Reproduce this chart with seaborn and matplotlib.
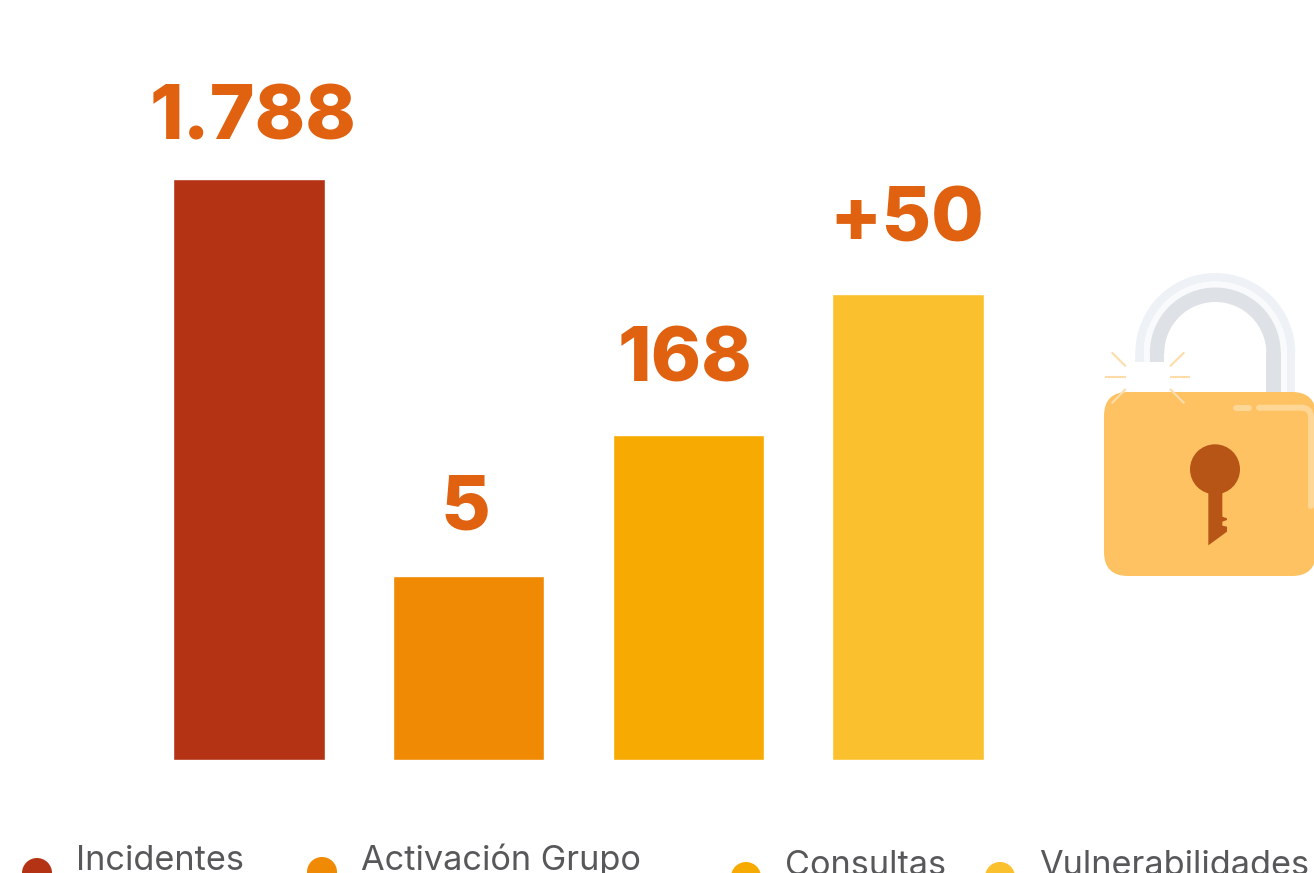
import numpy as np
import pandas as pd
import matplotlib
matplotlib.use('Agg')
import matplotlib.pyplot as plt
import seaborn as sns
from matplotlib.patches import Circle, FancyBboxPatch, Polygon, Rectangle, Wedge
from matplotlib.path import Path
from matplotlib.patches import PathPatch

# datos
categorias = ['Incidentes', 'Activación Grupo', 'Consultas', 'Vulnerabilidades']
alturas = [581, 184, 325, 466]
etiquetas = ['1.788', '5', '168', '+50']
colores = ['#b53315', '#f08a04', '#f7aa02', '#fbc02d']

sns.set_theme(style='white')
plt.rcParams['font.family'] = ['Inter', 'DejaVu Sans']

W, H = 1314, 873
fig = plt.figure(figsize=(W / 100, H / 100), dpi=100, facecolor='white')

# barras
paso = 219.8
izq = 248.8 - paso / 2
ax = fig.add_axes([izq / W, (H - 760) / H, 4 * paso / W, 581 / H])
df = pd.DataFrame({'cat': categorias, 'alto': alturas})
sns.barplot(data=df, x='cat', y='alto', hue='cat', palette=colores, width=0.69,
            saturation=1, legend=False, ax=ax)
ax.set_ylim(0, 581)
ax.set_xlim(-0.5, 3.5)
ax.axis('off')

# valores sobre las barras
offsets = [(4, 39), (-3, 47), (-3, 53), (-1, 52)]
for barra, texto, off in zip(ax.patches, etiquetas, offsets):
    ax.annotate(texto, (barra.get_x() + barra.get_width() / 2, barra.get_height()),
                xytext=(off[0] * 0.72, off[1] * 0.72), textcoords='offset points',
                ha='center', va='baseline', fontsize=55, fontweight='heavy',
                color='#e06211', annotation_clip=False)

# capa en pixeles para leyenda y candado
capa = fig.add_axes([0, 0, 1, 1], facecolor='none')
capa.set_xlim(0, W)
capa.set_ylim(H, 0)
capa.axis('off')

# leyenda
puntos = [(37, 873), (322, 872), (746, 877), (1000, 877)]
textos = [(76, 870), (361, 870), (785, 875), (1039, 875)]
for nombre, color, p, t in zip(categorias, colores, puntos, textos):
    capa.add_patch(Circle(p, 15, color=color, lw=0))
    capa.text(t[0], t[1], nombre, fontsize=24.7, color='#58585a', va='baseline', ha='left')

# candado: arco
cx, cy = 1215.3, 353
for r, ancho, color in [(80, 8.5, '#eef1f5'), (71.5, 6, '#f8fafc'), (65.5, 14.5, '#dee1e6')]:
    capa.add_patch(Wedge((cx, cy), r, 180, 360, width=ancho, color=color, lw=0))
    capa.add_patch(Rectangle((cx - r, cy), ancho, 362 - cy, color=color, lw=0))
    capa.add_patch(Rectangle((cx + r - ancho, cy), ancho, 393 - cy, color=color, lw=0))

# cuerpo
capa.add_patch(FancyBboxPatch((1128, 416), 164, 136,
                              boxstyle='round,pad=24,rounding_size=24', color='#fec263', lw=0))

# rayos
rayos = [((65, 277), (107, 319)), ((283, 277), (240, 319)), ((45, 351), (107, 351)),
         ((240, 351), (300, 351)), ((107, 387), (65, 430)), ((240, 387), (283, 430))]
for a, b in rayos:
    capa.plot([1090 + a[0] / 3, 1090 + b[0] / 3], [260 + a[1] / 3, 260 + b[1] / 3],
              color='#fddcaa', lw=1.5, solid_capstyle='butt')

# brillo
capa.plot([1235.5, 1249], [407.7, 407.7], color='#fed797', lw=4.3, solid_capstyle='round')
brillo = Path([(1259, 407.7), (1301, 407.7), (1311, 407.7), (1311, 417), (1311, 506)],
              [Path.MOVETO, Path.LINETO, Path.CURVE3, Path.CURVE3, Path.LINETO])
capa.add_patch(PathPatch(brillo, fill=False, edgecolor='#fed797', lw=4.3, capstyle='round'))

# bocallave
capa.add_patch(Circle((1215, 469.3), 25, color='#b75516', lw=0))
llave = np.array([(355, 690), (397, 690), (397, 770), (411, 775), (411, 780), (397, 785),
                  (397, 797), (411, 800), (411, 815), (355, 856)], dtype=float)
llave = llave / 3 + np.array([1090, 260])
capa.add_patch(Polygon(llave, closed=True, color='#b75516', lw=0))

fig.savefig('out.png', dpi=100)
